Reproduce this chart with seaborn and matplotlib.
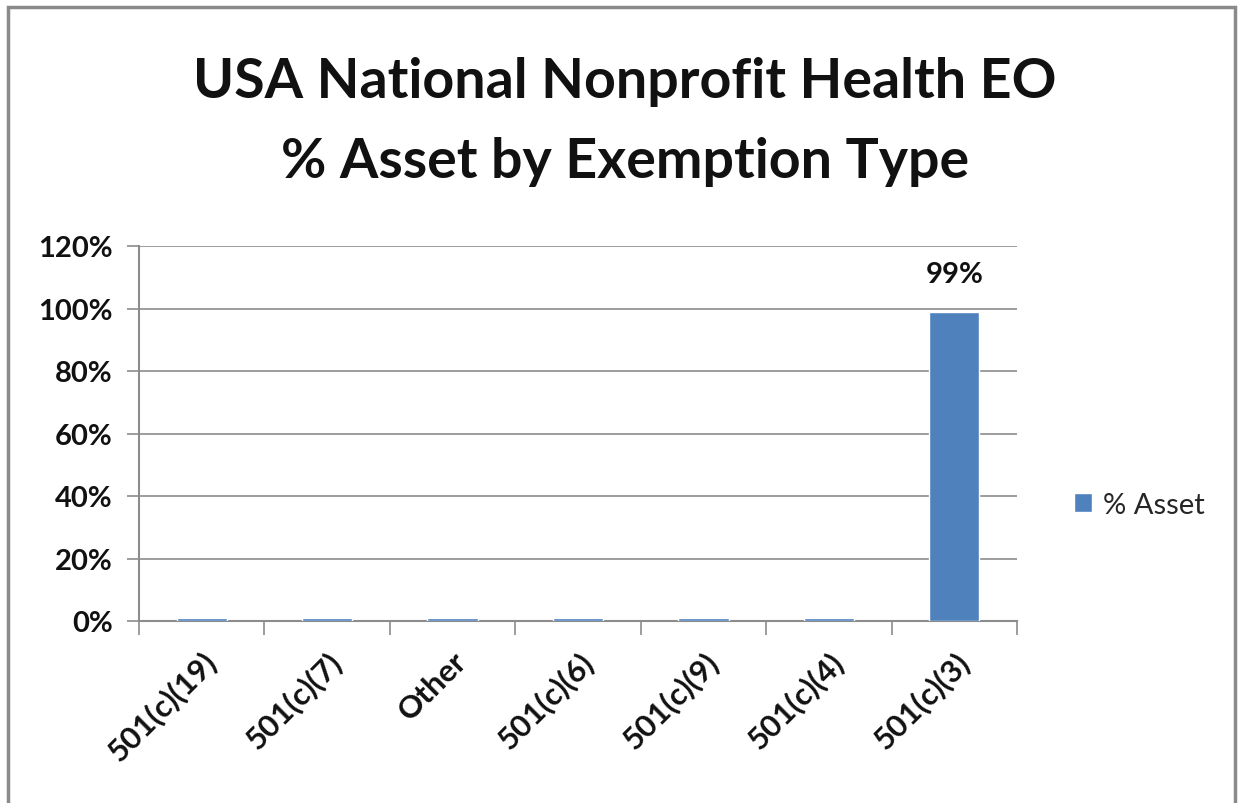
import matplotlib
matplotlib.use("Agg")
import matplotlib.pyplot as plt
import matplotlib.patches as mpatches
import matplotlib.transforms as mtransforms
import seaborn as sns
import pandas as pd

categories = ["501(c)(19)", "501(c)(7)", "Other", "501(c)(6)", "501(c)(9)", "501(c)(4)", "501(c)(3)"]
pct_asset = [1.0, 1.0, 1.0, 1.0, 1.0, 1.0, 99.0]
labels = ["", "", "", "", "", "", "99%"]
yticks = [0, 20, 40, 60, 80, 100, 120]

df = pd.DataFrame({"cat": categories, "val": pct_asset, "series": "% Asset"})

sns.set_theme(style="white")
plt.rcParams['font.family'] = ['Lato', 'DejaVu Sans']

W, H = 1243, 804
fig = plt.figure(figsize=(W / 100, H / 100), dpi=100)
ax = fig.add_axes([139 / W, 1 - 622 / H, (1017 - 139) / W, (622 - 247) / H])

color = "#4F81BD"
sns.barplot(data=df, x="cat", y="val", hue="series", palette=[color], saturation=1,
            width=0.4, ax=ax, zorder=3, legend=True)

ax.set_ylim(0, 120)
ax.set_xlim(-0.5, len(categories) - 0.5)
ax.set_yticks(yticks)
ax.set_yticklabels([f"{t}%" for t in yticks], fontsize=21, fontweight="bold", color="#111111")
ax.yaxis.grid(True, color="#8C8C8C", linewidth=1.2, zorder=0)
ax.xaxis.grid(False)
ax.set_xlabel("")
ax.set_ylabel("")
for s in ["top", "right"]:
    ax.spines[s].set_visible(False)
for s in ["bottom", "left"]:
    ax.spines[s].set_color("#8C8C8C")
    ax.spines[s].set_linewidth(1.5)
ax.tick_params(axis="y", length=9, width=1.2, color="#8C8C8C", direction="out", left=True, pad=10)

ax.set_xticks(range(len(categories)))
ax.set_xticklabels(categories, rotation=45, ha="right", rotation_mode="anchor",
                   fontsize=22.5, fontweight="bold", color="#111111")
offset = mtransforms.ScaledTranslation(9 / 100, -4 / 100, fig.dpi_scale_trans)
for lbl in ax.get_xticklabels():
    lbl.set_transform(lbl.get_transform() + offset)
ax.set_xticks([i - 0.5 for i in range(len(categories) + 1)], minor=True)
ax.tick_params(axis="x", which="major", length=0, pad=18)
ax.tick_params(axis="x", which="minor", length=10, color="#8C8C8C", width=1.2, direction="out", bottom=True)

for c in ax.containers:
    ax.bar_label(c, labels=labels, padding=18, fontsize=21, fontweight="bold", color="#111111")

leg = ax.legend(loc="center left", bbox_to_anchor=((1048 - 139) / (1017 - 139), 0.31),
                frameon=False, fontsize=21, handlelength=0.6, handleheight=0.6, handletextpad=0.4)

fig.text(625 / W, 1 - 82 / H, "USA National Nonprofit Health EO", ha="center", va="center",
         fontsize=40, fontweight="bold", color="#111111")
fig.text(625 / W, 1 - 162 / H, "% Asset by Exemption Type", ha="center", va="center",
         fontsize=40, fontweight="bold", color="#111111")

fig.patches.append(mpatches.Rectangle((8 / W, -0.01), (1235 - 8) / W, 1.01 - 8 / H, transform=fig.transFigure,
                                      fill=False, edgecolor="#8A8A8A", linewidth=2.5))

fig.savefig("out.png", dpi=100, facecolor="white")
